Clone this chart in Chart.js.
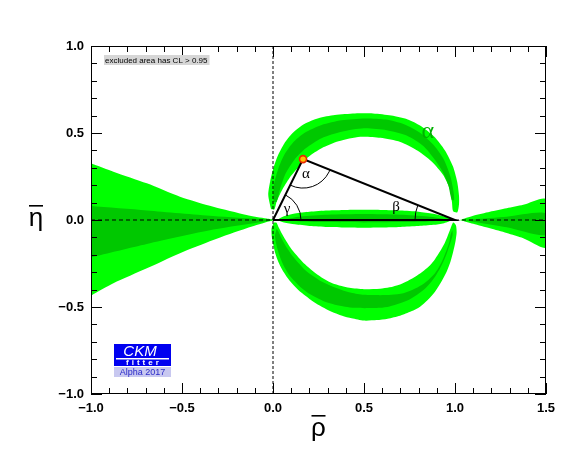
<!DOCTYPE html>
<html><head><meta charset="utf-8">
<script src="https://cdn.jsdelivr.net/npm/chart.js@4/dist/chart.umd.min.js"></script>
<style>html,body{margin:0;padding:0;background:#fff;}canvas{display:block;}</style>
</head><body>
<canvas id="c" width="575" height="459"></canvas>
<script>
// ---- axis ranges / ticks ----
const rhoRange = [-1, 1.5];
const etaRange = [-1, 1];
const majorStep = 0.5;

// ---- unitarity triangle ----
const apex = [0.165, 0.35];
const triangle = [[0, 0], apex, [1, 0], [0, 0]];

// ---- alpha constraint contours [rho, eta] ----
const upperLight = [[-0.011,0.063],[-0.026,0.144],[-0.016,0.22],[0.002,0.297],[0.027,0.37],[0.062,0.44],[0.108,0.5],[0.172,0.552],[0.249,0.585],[0.34,0.603],[0.45,0.612],[0.55,0.612],[0.65,0.6],[0.74,0.578],[0.81,0.542],[0.885,0.48],[0.945,0.4],[0.988,0.31],[1.012,0.22],[1.022,0.14],[1.022,0.09],[1.013,0.045],
  [0.99,0.05],[0.983,0.105],[0.97,0.182],[0.935,0.259],[0.873,0.335],[0.795,0.398],[0.7,0.448],[0.59,0.472],[0.48,0.478],[0.36,0.452],[0.267,0.412],[0.194,0.362],[0.145,0.31],[0.09,0.24],[0.05,0.172],[0.02,0.105],[0.007,0.06],[-0.011,0.063]];
const upperDark = [[0.002,0.105],[0.005,0.2],[0.028,0.292],[0.062,0.375],[0.108,0.443],[0.172,0.5],[0.267,0.546],[0.377,0.573],[0.505,0.584],[0.62,0.577],[0.72,0.55],[0.81,0.5],[0.885,0.428],[0.94,0.345],[0.975,0.249],[0.992,0.163],[0.995,0.115],
  [0.982,0.115],[0.963,0.201],[0.932,0.278],[0.885,0.352],[0.826,0.425],[0.734,0.485],[0.625,0.516],[0.5,0.527],[0.377,0.507],[0.267,0.47],[0.18,0.412],[0.117,0.345],[0.07,0.268],[0.04,0.182],[0.02,0.105],[0.002,0.105]];
const lowerLight = [[0.005,-0.015],[-0.008,-0.05],[-0.006,-0.1],[0.002,-0.144],[0.012,-0.19],[0.029,-0.24],[0.05,-0.285],[0.075,-0.326],[0.105,-0.365],[0.139,-0.402],[0.18,-0.437],[0.222,-0.47],[0.27,-0.5],[0.322,-0.527],[0.38,-0.55],[0.432,-0.565],[0.5,-0.578],[0.57,-0.575],[0.63,-0.567],[0.698,-0.55],[0.76,-0.525],[0.808,-0.498],[0.85,-0.46],[0.89,-0.412],[0.925,-0.355],[0.954,-0.297],[0.975,-0.24],[0.99,-0.182],[1.003,-0.12],[1.009,-0.07],[1.005,-0.03],[0.99,-0.015],
  [0.976,-0.048],[0.958,-0.096],[0.94,-0.14],[0.918,-0.18],[0.89,-0.225],[0.863,-0.26],[0.83,-0.29],[0.79,-0.32],[0.74,-0.35],[0.698,-0.37],[0.64,-0.387],[0.588,-0.395],[0.5,-0.398],[0.42,-0.39],[0.377,-0.38],[0.32,-0.36],[0.267,-0.33],[0.22,-0.295],[0.176,-0.255],[0.14,-0.215],[0.103,-0.17],[0.075,-0.125],[0.05,-0.08],[0.03,-0.04],[0.018,-0.015],[0.005,-0.015]];
const lowerDark = [[0.02,-0.05],[0.011,-0.09],[0.018,-0.14],[0.029,-0.182],[0.045,-0.23],[0.066,-0.278],[0.09,-0.318],[0.121,-0.354],[0.155,-0.39],[0.194,-0.421],[0.24,-0.447],[0.286,-0.47],[0.34,-0.487],[0.396,-0.498],[0.45,-0.505],[0.505,-0.507],[0.588,-0.505],[0.64,-0.497],[0.698,-0.479],[0.75,-0.457],[0.79,-0.431],[0.83,-0.4],[0.863,-0.364],[0.893,-0.322],[0.918,-0.278],[0.94,-0.23],[0.958,-0.182],[0.975,-0.13],[0.987,-0.086],[0.985,-0.06],
  [0.975,-0.09],[0.969,-0.125],[0.955,-0.17],[0.936,-0.22],[0.915,-0.265],[0.89,-0.306],[0.855,-0.343],[0.817,-0.374],[0.77,-0.4],[0.716,-0.421],[0.65,-0.43],[0.588,-0.432],[0.5,-0.43],[0.43,-0.418],[0.377,-0.402],[0.32,-0.38],[0.267,-0.354],[0.22,-0.322],[0.176,-0.287],[0.14,-0.247],[0.103,-0.201],[0.078,-0.163],[0.057,-0.125],[0.04,-0.09],[0.029,-0.065],[0.02,-0.05]];
const lensLight = [[0.02,0.0],[0.06,0.022],[0.12,0.038],[0.2,0.048],[0.3,0.055],[0.4,0.058],[0.5,0.059],[0.6,0.058],[0.7,0.055],[0.8,0.048],[0.88,0.036],[0.94,0.02],[0.985,0.003],[0.94,-0.018],[0.88,-0.028],[0.8,-0.035],[0.7,-0.04],[0.6,-0.043],[0.5,-0.044],[0.4,-0.043],[0.3,-0.04],[0.2,-0.034],[0.12,-0.025],[0.06,-0.014],[0.02,0.0]];
const lensDark = [[0.06,0.002],[0.15,0.02],[0.3,0.03],[0.5,0.034],[0.7,0.03],[0.85,0.02],[0.95,0.002],[0.85,-0.008],[0.7,-0.012],[0.5,-0.014],[0.3,-0.012],[0.15,-0.008],[0.06,0.002]];
const leftLight = [[-1,0.326],[-0.877,0.278],[-0.693,0.211],[-0.511,0.134],[-0.328,0.076],[-0.145,0.029],[-0.035,0.008],[0.005,0.0],[-0.035,-0.012],[-0.145,-0.048],[-0.328,-0.115],[-0.511,-0.191],[-0.693,-0.278],[-0.877,-0.364],[-1,-0.435]];
const leftDark = [[-1,0.08],[-0.693,0.055],[-0.328,0.023],[-0.053,0.004],[0.0,0.0],[-0.053,-0.01],[-0.328,-0.055],[-0.693,-0.138],[-1,-0.215]];
const rightLight = [[1.027,0.0],[1.1,0.025],[1.192,0.048],[1.284,0.068],[1.375,0.088],[1.5,0.119],[1.5,-0.157],[1.375,-0.105],[1.284,-0.075],[1.192,-0.048],[1.1,-0.022],[1.027,0.0]];
const rightDark = [[1.06,0.0],[1.1,0.004],[1.284,0.019],[1.5,0.038],[1.5,-0.086],[1.284,-0.042],[1.1,-0.01],[1.06,0.0]];

// reference lines
const zeroRhoLine = [[0, etaRange[0]], [0, etaRange[1]]];
const zeroEtaLine = [[rhoRange[0], 0], [rhoRange[1], 0]];

const LIGHT = '#00ff00', DARK = '#00c800';
const xy = a => a.map(p => ({x: p[0], y: p[1]}));
const region = (pts, color, order) => ({
  data: xy(pts), showLine: true, fill: 'shape', backgroundColor: color,
  borderColor: 'rgba(0,0,0,0)', borderWidth: 0, pointRadius: 0, tension: 0.25, order
});

const fmt = v => { const r = Math.round(v*10)/10; if (Math.abs(r % majorStep) > 1e-6) return ''; return (r < 0 ? '\u2212' : '') + Math.abs(r).toFixed(1); };
const tickFont = {family: "'Liberation Sans', Arial, sans-serif", size: 13, weight: 'bold'};

const overlay = {
  id: 'overlay',
  afterDatasetsDraw(chart) {
    const {ctx, chartArea: a, scales: {x, y}} = chart;
    const P = v => [x.getPixelForValue(v[0]), y.getPixelForValue(v[1])];
    ctx.save();
    ctx.strokeStyle = '#000'; ctx.lineWidth = 1;
    const arcAt = (c, p1, p2, r) => {
      const a1 = Math.atan2(p1[1]-c[1], p1[0]-c[0]);
      const a2 = Math.atan2(p2[1]-c[1], p2[0]-c[0]);
      let d = a2 - a1; while (d > Math.PI) d -= 2*Math.PI; while (d < -Math.PI) d += 2*Math.PI;
      ctx.beginPath(); ctx.arc(c[0], c[1], r, a1, a1 + d, d < 0); ctx.stroke();
    };
    const O = P(triangle[0]), A = P(triangle[1]), B = P(triangle[2]);
    arcAt(A, O, B, 29);
    arcAt(O, A, B, 28);
    arcAt(B, O, A, 40);
    ctx.fillStyle = '#000';
    ctx.font = "15px 'Liberation Serif', 'DejaVu Serif', serif";
    ctx.textAlign = 'center'; ctx.textBaseline = 'middle';
    ctx.fillText('\u03b1', A[0] + 3, A[1] + 15);
    ctx.fillText('\u03b3', O[0] + 14, O[1] - 11);
    ctx.fillText('\u03b2', B[0] - 59, B[1] - 13);
    ctx.fillStyle = '#00b000';
    ctx.font = "24px 'Liberation Serif', 'DejaVu Serif', serif";
    ctx.fillText('\u03b1', x.getPixelForValue(0.85), y.getPixelForValue(0.51));
    // frame
    ctx.strokeStyle = '#000'; ctx.lineWidth = 1;
    ctx.strokeRect(a.left + 0.5, a.top + 0.5, a.right - a.left - 1, a.bottom - a.top - 1);
    // tick marks (inside, all four sides)
    ctx.beginPath();
    for (let i = Math.round(rhoRange[0]*10); i <= Math.round(rhoRange[1]*10); i++) {
      const px = Math.round(x.getPixelForValue(i/10)) + 0.5;
      const len = (i % 5 === 0) ? 11 : 6;
      ctx.moveTo(px, a.bottom); ctx.lineTo(px, a.bottom - len);
      ctx.moveTo(px, a.top); ctx.lineTo(px, a.top + len);
    }
    for (let i = Math.round(etaRange[0]*10); i <= Math.round(etaRange[1]*10); i++) {
      const py = Math.round(y.getPixelForValue(i/10)) + 0.5;
      const len = (i % 5 === 0) ? 11 : 6;
      ctx.moveTo(a.left, py); ctx.lineTo(a.left + len, py);
      ctx.moveTo(a.right, py); ctx.lineTo(a.right - len, py);
    }
    ctx.stroke();
    ctx.restore();
  },
  afterDraw(chart) {
    const {ctx, chartArea: a, scales: {x, y}} = chart;
    ctx.save();
    ctx.fillStyle = '#000';
    ctx.font = "26px 'Liberation Sans', Arial, sans-serif";
    ctx.textAlign = 'center'; ctx.textBaseline = 'alphabetic';
    const ex = a.left - 55, ey = y.getPixelForValue(0) + 6;
    ctx.fillText('\u03b7', ex, ey);
    ctx.fillRect(ex - 7, ey - 21, 14, 1.6);
    const rx = (a.left + a.right) / 2, ry = a.bottom + 42;
    ctx.fillText('\u03c1', rx, ry);
    ctx.fillRect(rx - 7, ry - 21, 14, 1.6);
    ctx.font = "8px 'Liberation Sans', Arial, sans-serif";
    ctx.textAlign = 'left'; ctx.textBaseline = 'middle';
    const note = 'excluded area has CL > 0.95';
    const w = ctx.measureText(note).width;
    ctx.fillStyle = '#d6d6d6';
    ctx.fillRect(a.left + 13, a.top + 9, w + 3, 10);
    ctx.fillStyle = '#000';
    ctx.fillText(note, a.left + 14, a.top + 14.5);
    const lx = a.left + 23, ly = a.bottom - 50;
    ctx.fillStyle = '#0000f0';
    ctx.fillRect(lx, ly, 57, 22);
    ctx.fillStyle = '#fff';
    ctx.font = "italic 15px 'Liberation Sans', Arial, sans-serif";
    ctx.textAlign = 'center'; ctx.textBaseline = 'alphabetic';
    ctx.fillText('CKM', lx + 26, ly + 12);
    ctx.fillRect(lx + 2, ly + 14, 53, 1.5);
    ctx.font = "bold 8px 'Liberation Sans', Arial, sans-serif";
    ctx.textAlign = 'left';
    try { ctx.letterSpacing = '3px'; } catch (e) {}
    ctx.fillText('fitter', lx + 12, ly + 21);
    try { ctx.letterSpacing = '0px'; } catch (e) {}
    ctx.fillStyle = '#c8c8f0';
    ctx.fillRect(lx, ly + 23, 57, 10);
    ctx.fillStyle = '#2a2ac8';
    ctx.font = "9px 'Liberation Sans', Arial, sans-serif";
    ctx.textAlign = 'center'; ctx.textBaseline = 'middle';
    ctx.fillText('Alpha 2017', lx + 28.5, ly + 28.5);
    ctx.restore();
  }
};

new Chart(document.getElementById('c'), {
  type: 'scatter',
  data: {
    datasets: [
      region(upperLight, LIGHT, 20), region(lowerLight, LIGHT, 20), region(lensLight, LIGHT, 20),
      region(leftLight, LIGHT, 20), region(rightLight, LIGHT, 20),
      region(upperDark, DARK, 19), region(lowerDark, DARK, 19), region(lensDark, DARK, 19),
      region(leftDark, DARK, 19), region(rightDark, DARK, 19),
      {data: xy(zeroRhoLine), showLine: true, borderColor: '#000', borderWidth: 1, borderDash: [3, 2], pointRadius: 0, fill: false, order: 5},
      {data: xy(zeroEtaLine), showLine: true, borderColor: '#000', borderWidth: 1, borderDash: [4, 3], pointRadius: 0, fill: false, order: 5},
      {data: xy(triangle), showLine: true, borderColor: '#000', borderWidth: 2, pointRadius: 0, fill: false, tension: 0, order: 2},
      {data: xy([apex]), showLine: false, pointRadius: 3.5, pointBorderWidth: 1.6, pointBackgroundColor: '#ffc400', pointBorderColor: '#e82800', order: 1}
    ]
  },
  options: {
    responsive: false, animation: false, devicePixelRatio: 1,
    layout: {padding: 0},
    plugins: {legend: {display: false}, tooltip: {enabled: false}},
    scales: {
      x: {type: 'linear', position: 'bottom', min: rhoRange[0], max: rhoRange[1],
          ticks: {stepSize: majorStep, callback: fmt, font: tickFont, color: '#000', padding: 7, maxRotation: 0, autoSkip: false},
          grid: {display: false, drawTicks: false}, border: {display: false},
          afterFit: s => { s.height = 65; }},
      y: {type: 'linear', position: 'left', min: etaRange[0], max: etaRange[1],
          ticks: {stepSize: majorStep, callback: fmt, font: tickFont, color: '#000', padding: 7, autoSkip: false},
          grid: {display: false, drawTicks: false}, border: {display: false},
          afterFit: s => { s.width = 91; }},
      x2: {type: 'linear', position: 'top', min: rhoRange[0], max: rhoRange[1],
           ticks: {display: false}, grid: {display: false, drawTicks: false}, border: {display: false},
           afterFit: s => { s.height = 46; }},
      y2: {type: 'linear', position: 'right', min: etaRange[0], max: etaRange[1],
           ticks: {display: false}, grid: {display: false, drawTicks: false}, border: {display: false},
           afterFit: s => { s.width = 29; }}
    }
  },
  plugins: [overlay]
});
</script>
</body></html>
